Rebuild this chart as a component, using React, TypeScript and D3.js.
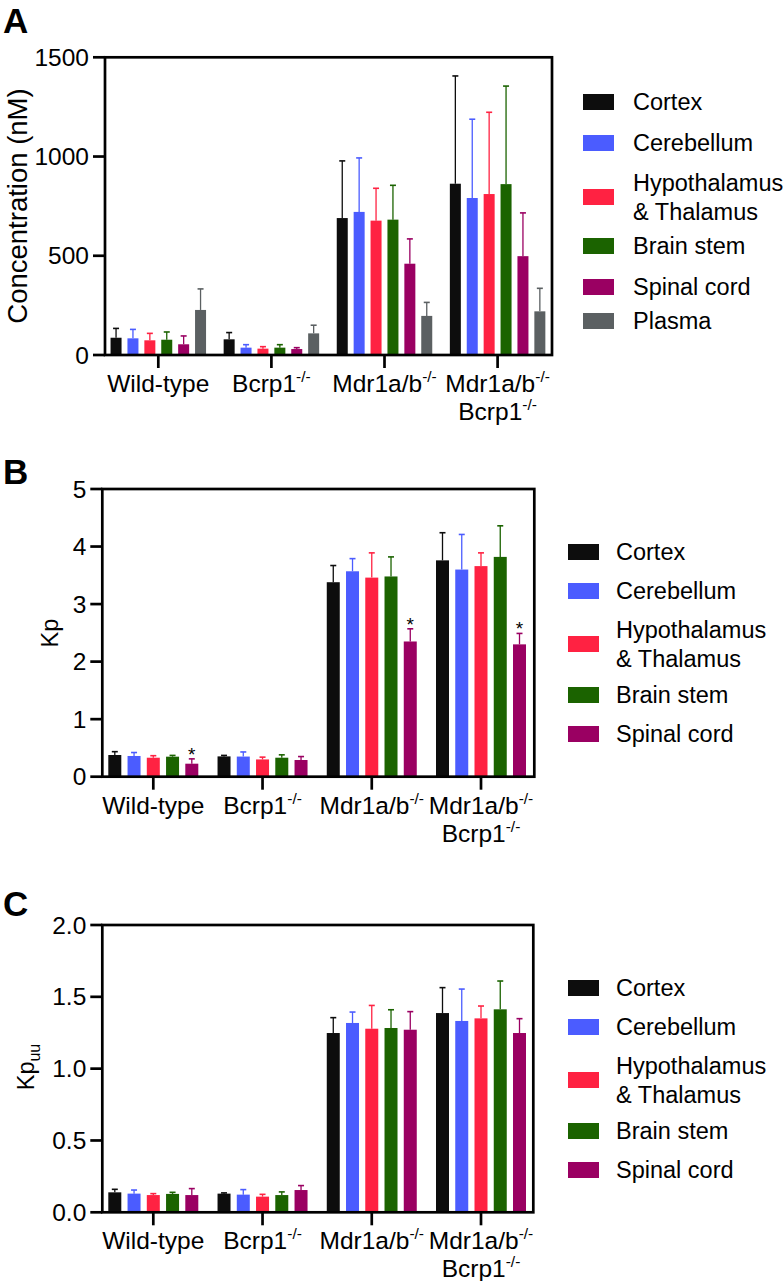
import React from 'react'
import { scaleLinear, scaleBand, scalePoint } from 'd3'

const groups = ['wt', 'bcrp', 'mdr', 'mdrbcrp']
// label lines: [base text, superscript]
const groupLabels: [string, string][][] = [
  [['Wild-type', '']],
  [['Bcrp1', '-/-']],
  [['Mdr1a/b', '-/-']],
  [['Mdr1a/b', '-/-'], ['Bcrp1', '-/-']]
]

const tissues = ['Cortex', 'Cerebellum', 'Hypothalamus & Thalamus', 'Brain stem', 'Spinal cord', 'Plasma']
const tissueColors = ['#0d0d0d', '#4b5cff', '#ff2242', '#1b6300', '#9a0062', '#5b6062']

// concentration (nM), rows = tissues, cols = groups
const concMean = [
  [87, 79, 690, 863],
  [84, 37, 721, 791],
  [74, 32, 677, 811],
  [77, 37, 682, 861],
  [54, 30, 460, 498],
  [227, 109, 197, 220]
]
const concSd = [
  [47, 34, 288, 543],
  [45, 15, 272, 397],
  [35, 10, 163, 412],
  [39, 15, 173, 494],
  [42, 7, 125, 218],
  [106, 41, 68, 116]
]

const kpMean = [
  [0.377, 0.353, 3.38, 3.76],
  [0.36, 0.35, 3.57, 3.6],
  [0.33, 0.3, 3.46, 3.66],
  [0.348, 0.33, 3.48, 3.82],
  [0.226, 0.29, 2.35, 2.3]
]
const kpSd = [
  [0.058, 0.017, 0.29, 0.48],
  [0.06, 0.08, 0.22, 0.61],
  [0.035, 0.04, 0.43, 0.23],
  [0.022, 0.05, 0.34, 0.54],
  [0.084, 0.06, 0.22, 0.19]
]
// significance marks on spinal cord
const kpStars = [[], [], [], [], [true, false, true, true]]

const kpuuMean = [
  [0.139, 0.13, 1.248, 1.387],
  [0.13, 0.123, 1.318, 1.332],
  [0.12, 0.109, 1.278, 1.35],
  [0.128, 0.12, 1.283, 1.413],
  [0.12, 0.155, 1.271, 1.248]
]
const kpuuSd = [
  [0.021, 0.005, 0.107, 0.177],
  [0.025, 0.035, 0.076, 0.222],
  [0.01, 0.016, 0.162, 0.086],
  [0.011, 0.022, 0.127, 0.197],
  [0.045, 0.031, 0.126, 0.1]
]

const concTicks = [0, 500, 1000, 1500]
const kpTicks = [0, 1, 2, 3, 4, 5]
const kpuuTicks = [0, 0.5, 1, 1.5, 2]

const FONT = '"Liberation Sans", Arial, sans-serif'
const FS = 24.5
const LFS = 23.5

const Panel = ({ letter, letterY, box, yMax, ticks, tickFmt, mean, sd, stars, nSeries, step, barW,
  groupRange, yLabel, legendRows, legendX }) => {
  const { left, right, top, bottom } = box
  const y = scaleLinear().domain([0, yMax]).range([bottom, top])
  const xGroup = scalePoint().domain(groups).range(groupRange)
  const series = tissues.slice(0, nSeries)
  const inner = scaleBand()
    .domain(series)
    .range([-nSeries * step / 2, nSeries * step / 2])
    .paddingInner(1 - barW / step)
    .paddingOuter((1 - barW / step) / 2)

  return <g>
    <text x={3} y={letterY} fontSize={35} fontWeight="bold" fontFamily={FONT}>{letter}</text>
    {yLabel}
    {/* bars + error bars */}
    {series.map((s, si) => groups.map((g, gi) => {
      const x0 = xGroup(g) + inner(s)
      const v = mean[si][gi]
      const e = v + sd[si][gi]
      const cx = x0 + inner.bandwidth() / 2
      return <g key={s + g}>
        <line x1={cx} x2={cx} y1={y(v)} y2={y(e)} stroke={tissueColors[si]} strokeWidth={1.3} />
        <line x1={cx - 3} x2={cx + 3} y1={y(e)} y2={y(e)} stroke={tissueColors[si]} strokeWidth={1.6} />
        <rect x={x0} y={y(v)} width={inner.bandwidth()} height={bottom - y(v)} fill={tissueColors[si]} />
        {stars && stars[si] && stars[si][gi] &&
          <text x={cx} y={y(e) + 2} textAnchor="middle" fontSize={19} fontFamily={FONT}>*</text>}
      </g>
    }))}
    {/* frame */}
    <rect x={left} y={top} width={right - left} height={bottom - top} fill="none" stroke="#000" strokeWidth={2.7} />
    {/* y ticks */}
    {ticks.map(t => <g key={t}>
      <line x1={left - 12} x2={left} y1={y(t)} y2={y(t)} stroke="#000" strokeWidth={2.7} />
      <text x={left - 16} y={y(t) + 8.6} textAnchor="end" fontSize={FS} fontFamily={FONT}>{tickFmt(t)}</text>
    </g>)}
    {/* x ticks and labels */}
    {groups.map((g, gi) => <g key={g}>
      <line x1={xGroup(g)} x2={xGroup(g)} y1={bottom} y2={bottom + 13} stroke="#000" strokeWidth={2.7} />
      {groupLabels[gi].map((ln, li) =>
        <text key={li} x={xGroup(g)} y={bottom + 37 + li * 28} textAnchor="middle" fontSize={FS} fontFamily={FONT}>
          {ln[0]}{ln[1] && <tspan dy={-10} fontSize={15.5}>{ln[1]}</tspan>}
        </text>)}
    </g>)}
    {/* legend */}
    {series.map((s, si) => {
      const cy = legendRows[si]
      const lines = s === 'Hypothalamus & Thalamus' ? ['Hypothalamus', '& Thalamus'] : [s]
      return <g key={s}>
        <rect x={legendX} y={cy - 8} width={31} height={16} fill={tissueColors[si]} />
        {lines.map((l, li) =>
          <text key={li} x={legendX + (legendX > 575 ? 50 : 48)}
            y={cy + 8.4 + (lines.length > 1 ? (li - 0.5) * 29 : 0)}
            fontSize={LFS} fontFamily={FONT}>{l}</text>)}
      </g>
    })}
  </g>
}

const App = () => {
  return <div style={{ position: 'absolute', left: 0, top: 0 }}>
    <svg width={783} height={1281} style={{ display: 'block', background: '#fff' }}>
      <Panel letter="A" letterY={33}
        box={{ left: 105, right: 552, top: 57.3, bottom: 355 }}
        yMax={1500} ticks={concTicks} tickFmt={t => String(t)}
        mean={concMean} sd={concSd} stars={null} nSeries={6} step={16.9} barW={11}
        groupRange={[158.3, 497.6]}
        yLabel={<text transform="translate(27,206) rotate(-90)" textAnchor="middle" fontSize={27.5} fontFamily={FONT}>Concentration (nM)</text>}
        legendRows={[102, 143, 197, 246, 287, 321]} legendX={583} />
      <Panel letter="B" letterY={484}
        box={{ left: 102.3, right: 534.3, top: 489, bottom: 776.7 }}
        yMax={5} ticks={kpTicks} tickFmt={t => String(t)}
        mean={kpMean} sd={kpSd} stars={kpStars} nSeries={5} step={19.25} barW={13}
        groupRange={[153.3, 481]}
        yLabel={<text transform="translate(58,633) rotate(-90)" textAnchor="middle" fontSize={LFS} fontFamily={FONT}>Kp</text>}
        legendRows={[552, 591, 644, 695, 734]} legendX={568} />
      <Panel letter="C" letterY={916}
        box={{ left: 102.3, right: 533.3, top: 925, bottom: 1212.3 }}
        yMax={2} ticks={kpuuTicks} tickFmt={t => t.toFixed(1)}
        mean={kpuuMean} sd={kpuuSd} stars={null} nSeries={5} step={19.25} barW={13}
        groupRange={[153.3, 481]}
        yLabel={<text transform="translate(34,1067) rotate(-90)" textAnchor="middle" fontSize={LFS} fontFamily={FONT}>Kp<tspan dy={6} fontSize={16}>uu</tspan></text>}
        legendRows={[988, 1027, 1080, 1131, 1170]} legendX={568} />
    </svg>
  </div>
}

export default App
